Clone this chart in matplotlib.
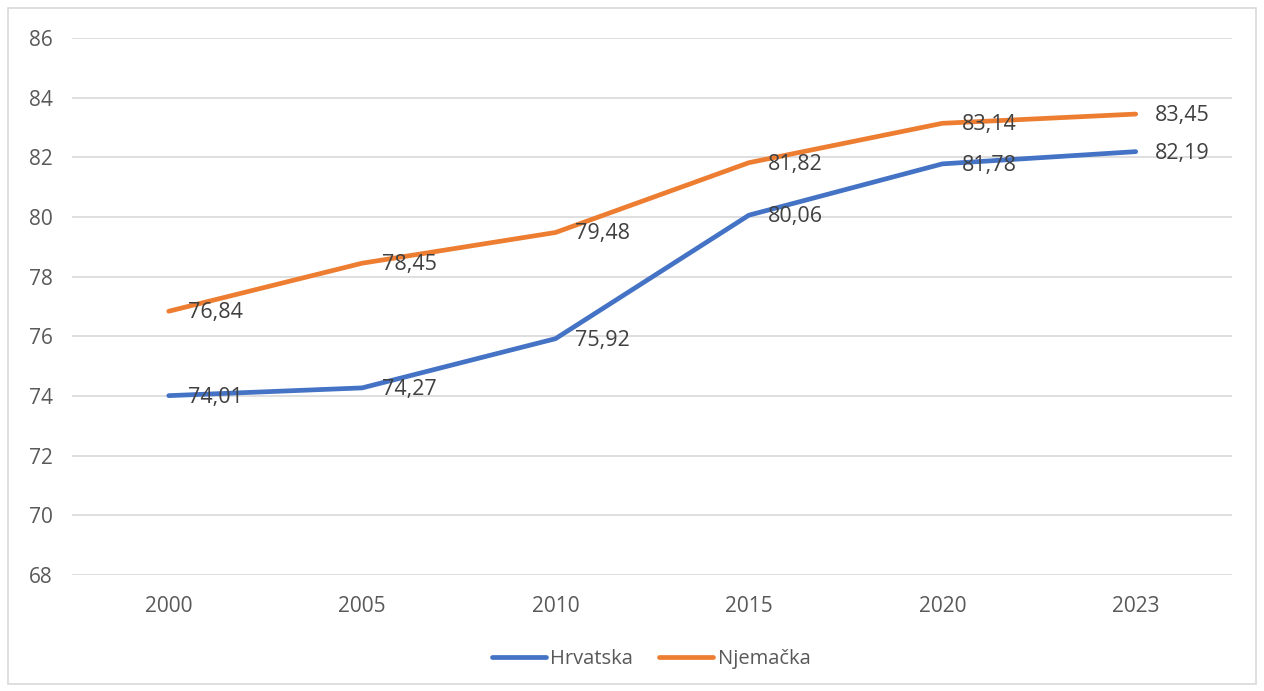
import matplotlib.pyplot as plt
from matplotlib.patches import Rectangle

years = ['2000', '2005', '2010', '2015', '2020', '2023']
hrvatska = [74.01, 74.27, 75.92, 80.06, 81.78, 82.19]
njemacka = [76.84, 78.45, 79.48, 81.82, 83.14, 83.45]

blue = '#4472C4'
orange = '#ED7D31'
txt = '#595959'

plt.rcParams['font.family'] = ['Open Sans', 'DejaVu Sans']

fig = plt.figure(figsize=(12.64, 6.91), dpi=100)
ax = fig.add_axes([0.057, 0.168, 0.918, 0.777])

x = list(range(len(years)))
ax.plot(x, hrvatska, color=blue, lw=3.4, solid_capstyle='round', label='Hrvatska')
ax.plot(x, njemacka, color=orange, lw=3.4, solid_capstyle='round', label='Njemačka')

# data labels to the right of each point
for series in (hrvatska, njemacka):
    for xi, v in zip(x, series):
        ax.annotate(f'{v:.2f}'.replace('.', ','), (xi, v), xytext=(14, -1),
                    textcoords='offset points', ha='left', va='center',
                    fontsize=15.5, color='#404040')

ax.set_xlim(-0.5, len(years) - 0.5)
ax.set_ylim(68, 86)
ax.set_yticks(range(68, 87, 2))
ax.set_xticks(x)
ax.set_xticklabels(years)
ax.grid(axis='y', color='#D9D9D9', lw=1.2)
ax.set_axisbelow(True)
for s in ax.spines.values():
    s.set_visible(False)
ax.tick_params(length=0, labelsize=15, colors=txt)
ax.tick_params(axis='y', pad=14)
ax.tick_params(axis='x', pad=15)

leg = fig.legend(loc='center', bbox_to_anchor=(0.515, 0.046), ncol=2, frameon=False,
                 fontsize=14.5, handlelength=2.7, handletextpad=0.2, columnspacing=1.3)
for t in leg.get_texts():
    t.set_color(txt)

fig.patches.append(Rectangle((0.006, 0.01), 0.988, 0.978, transform=fig.transFigure,
                             fill=False, edgecolor='#D9D9D9', lw=1.2))

fig.savefig('out.png', dpi=100)
